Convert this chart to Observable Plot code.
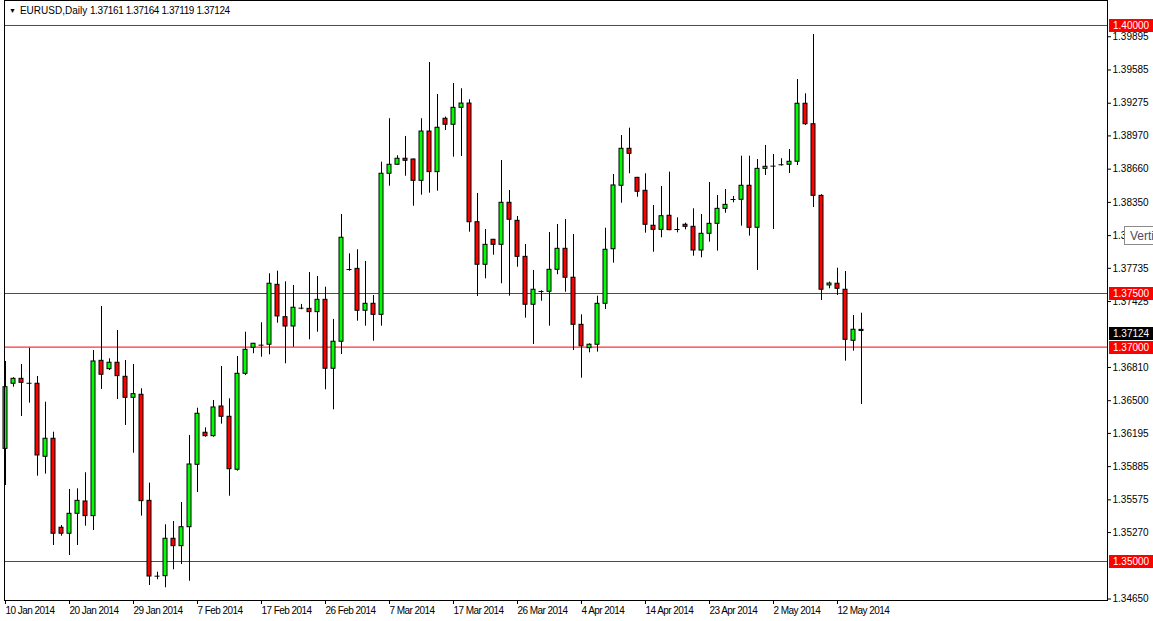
<!DOCTYPE html>
<html><head><meta charset="utf-8">
<script src="https://cdn.jsdelivr.net/npm/d3@7"></script>
<script src="https://cdn.jsdelivr.net/npm/@observablehq/plot@0.6"></script>
<style>
html,body{margin:0;padding:0;background:#fff;}
#chart{position:relative;width:1153px;height:621px;overflow:hidden;background:#fff;}
#header{position:absolute;left:9px;top:5px;font:10px "Liberation Sans",Arial,sans-serif;color:#000;white-space:pre;}
#header .tri{font-size:7px;vertical-align:1px;margin-right:4px;}
#header .num{letter-spacing:-0.4px;}
#tip{position:absolute;left:1124px;top:226px;width:40px;height:19px;border:1px solid #8a8a8a;background:#fff;font:12px "Liberation Sans",Arial,sans-serif;color:#4b4b5e;line-height:19px;padding-left:5px;box-sizing:border-box;}
</style></head><body>
<div id="chart"></div>
<script>
const dates = ["2014-01-10","2014-01-12","2014-01-13","2014-01-14","2014-01-15","2014-01-16","2014-01-17","2014-01-19","2014-01-20","2014-01-21","2014-01-22","2014-01-23","2014-01-24","2014-01-26","2014-01-27","2014-01-28","2014-01-29","2014-01-30","2014-01-31","2014-02-02","2014-02-03","2014-02-04","2014-02-05","2014-02-06","2014-02-07","2014-02-09","2014-02-10","2014-02-11","2014-02-12","2014-02-13","2014-02-14","2014-02-16","2014-02-17","2014-02-18","2014-02-19","2014-02-20","2014-02-21","2014-02-23","2014-02-24","2014-02-25","2014-02-26","2014-02-27","2014-02-28","2014-03-02","2014-03-03","2014-03-04","2014-03-05","2014-03-06","2014-03-07","2014-03-09","2014-03-10","2014-03-11","2014-03-12","2014-03-13","2014-03-14","2014-03-16","2014-03-17","2014-03-18","2014-03-19","2014-03-20","2014-03-21","2014-03-23","2014-03-24","2014-03-25","2014-03-26","2014-03-27","2014-03-28","2014-03-30","2014-03-31","2014-04-01","2014-04-02","2014-04-03","2014-04-04","2014-04-06","2014-04-07","2014-04-08","2014-04-09","2014-04-10","2014-04-11","2014-04-13","2014-04-14","2014-04-15","2014-04-16","2014-04-17","2014-04-18","2014-04-20","2014-04-21","2014-04-22","2014-04-23","2014-04-24","2014-04-25","2014-04-27","2014-04-28","2014-04-29","2014-04-30","2014-05-01","2014-05-02","2014-05-04","2014-05-05","2014-05-06","2014-05-07","2014-05-08","2014-05-09","2014-05-11","2014-05-12","2014-05-13","2014-05-14","2014-05-15"];

const open = [1.36051,1.36658,1.36704,1.36665,1.36658,1.35977,1.36145,1.35315,1.35259,1.35445,1.35560,1.35423,1.36872,1.36794,1.36854,1.36723,1.36527,1.36555,1.35566,1.34865,1.34863,1.35212,1.35143,1.35320,1.35902,1.36201,1.36169,1.36446,1.36350,1.35856,1.36751,1.36994,1.37020,1.37022,1.37581,1.37279,1.37192,1.37365,1.37357,1.37326,1.37441,1.36798,1.37050,1.37726,1.37730,1.37339,1.37404,1.37301,1.38617,1.38701,1.38757,1.38750,1.38551,1.39011,1.38632,1.39130,1.39074,1.39232,1.39272,1.38165,1.37768,1.38001,1.37954,1.38346,1.38178,1.37842,1.37395,1.37521,1.37516,1.37721,1.37917,1.37647,1.37208,1.36990,1.37022,1.37404,1.37913,1.38505,1.38850,1.38579,1.38458,1.38132,1.38094,1.38225,1.38099,1.38141,1.38122,1.37901,1.38057,1.38150,1.38290,1.38379,1.38374,1.38505,1.38113,1.38663,1.38690,1.38703,1.38701,1.38729,1.39270,1.39079,1.38411,1.37575,1.37591,1.37535,1.37059,1.37161];

const high = [1.36866,1.36714,1.36838,1.36990,1.36726,1.36486,1.36206,1.35336,1.35672,1.35678,1.35828,1.36968,1.37379,1.36891,1.37155,1.36875,1.36838,1.36611,1.35731,1.34900,1.35342,1.35373,1.35550,1.36176,1.36430,1.36247,1.36502,1.36819,1.36518,1.36912,1.37139,1.37035,1.37227,1.37684,1.37708,1.37609,1.37575,1.37398,1.37696,1.37659,1.37559,1.37258,1.38237,1.37870,1.37908,1.37799,1.37481,1.38725,1.39130,1.38785,1.38965,1.38755,1.39130,1.39655,1.39356,1.39145,1.39459,1.39410,1.39307,1.38433,1.38097,1.38005,1.38741,1.38461,1.38218,1.37957,1.37715,1.37525,1.38069,1.38144,1.38190,1.38050,1.37301,1.37031,1.37475,1.38109,1.38610,1.38974,1.39042,1.38583,1.38617,1.38321,1.38498,1.38632,1.38206,1.38156,1.38290,1.38237,1.38535,1.38414,1.38470,1.38405,1.38781,1.38781,1.38750,1.38881,1.38797,1.38757,1.38843,1.39496,1.39363,1.39916,1.38421,1.37606,1.37736,1.37705,1.37295,1.37316];

const low = [1.35709,1.36626,1.36353,1.36477,1.35796,1.35815,1.35149,1.35236,1.35056,1.35149,1.35329,1.35289,1.36605,1.36782,1.36511,1.36269,1.36010,1.35423,1.34776,1.34830,1.34755,1.34923,1.34972,1.34816,1.35644,1.36160,1.36160,1.36281,1.35609,1.35843,1.36735,1.36938,1.36906,1.36928,1.37223,1.36844,1.36999,1.37348,1.37068,1.37139,1.36602,1.36415,1.36931,1.37708,1.37242,1.37195,1.37055,1.37195,1.38501,1.38694,1.38594,1.38314,1.38417,1.38436,1.38454,1.39021,1.38772,1.38778,1.38072,1.37472,1.37637,1.37857,1.37591,1.37475,1.37745,1.37270,1.37024,1.37428,1.37195,1.37675,1.37512,1.36968,1.36710,1.36947,1.36953,1.37351,1.37783,1.38342,1.38617,1.38398,1.38063,1.37885,1.38020,1.38085,1.38066,1.38094,1.37848,1.37833,1.37979,1.37895,1.38249,1.38346,1.38128,1.38035,1.37715,1.38601,1.38097,1.38688,1.38619,1.38694,1.39067,1.38302,1.37435,1.37544,1.37481,1.36869,1.36962,1.36465];

const close = [1.36626,1.36704,1.36667,1.36660,1.35989,1.36145,1.35259,1.35259,1.35445,1.35566,1.35423,1.36866,1.36742,1.36854,1.36729,1.36527,1.36561,1.35563,1.34860,1.34861,1.35212,1.35143,1.35320,1.35905,1.36378,1.36169,1.36437,1.36350,1.35861,1.36751,1.36975,1.37031,1.37016,1.37591,1.37286,1.37192,1.37367,1.37361,1.37326,1.37441,1.36798,1.37050,1.38020,1.37722,1.37339,1.37404,1.37301,1.38617,1.38701,1.38757,1.38738,1.38551,1.39011,1.38632,1.39046,1.39074,1.39232,1.39272,1.38165,1.37768,1.37954,1.37954,1.38346,1.38188,1.37842,1.37395,1.37535,1.37517,1.37721,1.37917,1.37647,1.37208,1.37008,1.37022,1.37404,1.37908,1.38508,1.38850,1.38803,1.38449,1.38141,1.38094,1.38221,1.38091,1.38095,1.38122,1.37901,1.38057,1.38150,1.38290,1.38327,1.38375,1.38505,1.38113,1.38663,1.38682,1.38686,1.38699,1.38729,1.39270,1.39079,1.38411,1.37535,1.37593,1.37544,1.37068,1.37162,1.37150];

const priceTicks = [1.39895,1.39585,1.39275,1.38970,1.38660,1.38350,1.38040,1.37735,1.37425,1.36810,1.36500,1.36195,1.35885,1.35575,1.35270,1.34650];
const levelLines = [1.40000, 1.37500, 1.37000, 1.35000];
const lastPrice = 1.37124;
const xTickDates = ["2014-01-10","2014-01-20","2014-01-29","2014-02-07","2014-02-17","2014-02-26","2014-03-07","2014-03-17","2014-03-26","2014-04-04","2014-04-14","2014-04-23","2014-05-02","2014-05-12"];
const xTickLabels = ["10 Jan 2014","20 Jan 2014","29 Jan 2014","7 Feb 2014","17 Feb 2014","26 Feb 2014","7 Mar 2014","17 Mar 2014","26 Mar 2014","4 Apr 2014","14 Apr 2014","23 Apr 2014","2 May 2014","12 May 2014"];
const headerSymbol = "EURUSD,Daily";
const headerOHLC = [1.37161, 1.37164, 1.37119, 1.37124];

const data = dates.map((d, i) => ({i, date: d, open: open[i], high: high[i], low: low[i], close: close[i]}));
const isDoji = d => Math.abs(d.open - d.close) < 0.00006;
const tickIdx = xTickDates.map(d => dates.indexOf(d));
const labelOf = new Map(tickIdx.map((k, j) => [k, xTickLabels[j]]));
const fmt = d3.format(".5f");

const chart = Plot.plot({
  width: 1153, height: 621,
  marginLeft: 4, marginRight: 46, marginTop: 0, marginBottom: 21,
  x: {type: "linear", domain: [-0.125, 137.75], axis: null, label: null},
  y: {domain: [1.346362, 1.402332], axis: null, label: null},
  color: {type: "identity"},
  style: {background: "white", fontFamily: "'Liberation Sans', Arial, sans-serif", fontSize: "10px", color: "black", overflow: "visible"},
  marks: [
    Plot.ruleY(levelLines, {stroke: "#ff0000", strokeWidth: 1}),
    Plot.ruleX(data, {x: "i", y1: "low", y2: "high", stroke: "black", strokeWidth: 1}),
    Plot.rect(data.filter(d => !isDoji(d)), {
      x1: d => d.i - 0.25, x2: d => d.i + 0.25, y1: "open", y2: "close",
      fill: d => d.close >= d.open ? "#00ff00" : "#ff0000", stroke: "black", strokeWidth: 1
    }),
    Plot.ruleY(data.filter(isDoji), {y: d => (d.open + d.close) / 2, x1: d => d.i - 0.3125, x2: d => d.i + 0.3125, stroke: "black", strokeWidth: 1}),
    Plot.axisY(priceTicks, {anchor: "right", label: null, tickSize: 3, tickPadding: 2, tickFormat: fmt, fontSize: 10, stroke: "black"}),
    Plot.axisX(tickIdx, {anchor: "bottom", label: null, tickSize: 4, tickPadding: 2, tickFormat: k => labelOf.get(k), textAnchor: "start", dx: 0, fontSize: 10, className: "xax"}),
    Plot.frame({stroke: "black"})
  ]
});

const host = document.getElementById("chart");
host.appendChild(chart);
const svg = d3.select(chart);
svg.selectAll("g[aria-label='x-axis tick label'] text").attr("letter-spacing", "-0.55px");
const y = chart.scale("y");
const xRight = 1153 - 46;

const boxes = levelLines.map(v => ({v, fill: "#ff0000"})).concat([{v: lastPrice, fill: "#000000"}]);
const g = svg.append("g")
  .attr("font-family", "'Liberation Sans', Arial, sans-serif")
  .attr("font-size", 10)
  .attr("text-anchor", "start");
for (const b of boxes) {
  const yy = Math.round(y.apply(b.v));
  g.append("rect").attr("x", xRight + 2).attr("y", yy - 6).attr("width", 44).attr("height", 13).attr("fill", b.fill);
  g.append("text").attr("x", xRight + 6).attr("y", yy + 0.5).attr("dy", "0.35em").attr("fill", "white").attr("text-anchor", "start").text(fmt(b.v));
}

const hdr = document.createElement("div");
hdr.id = "header";
hdr.innerHTML = '<span class="tri">\u25BC</span>' + headerSymbol + ' <span class="num">' + headerOHLC.map(fmt).join(" ") + '</span>';
host.appendChild(hdr);

const tip = document.createElement("div");
tip.id = "tip";
tip.textContent = "Verti";
host.appendChild(tip);
</script>
</body></html>
